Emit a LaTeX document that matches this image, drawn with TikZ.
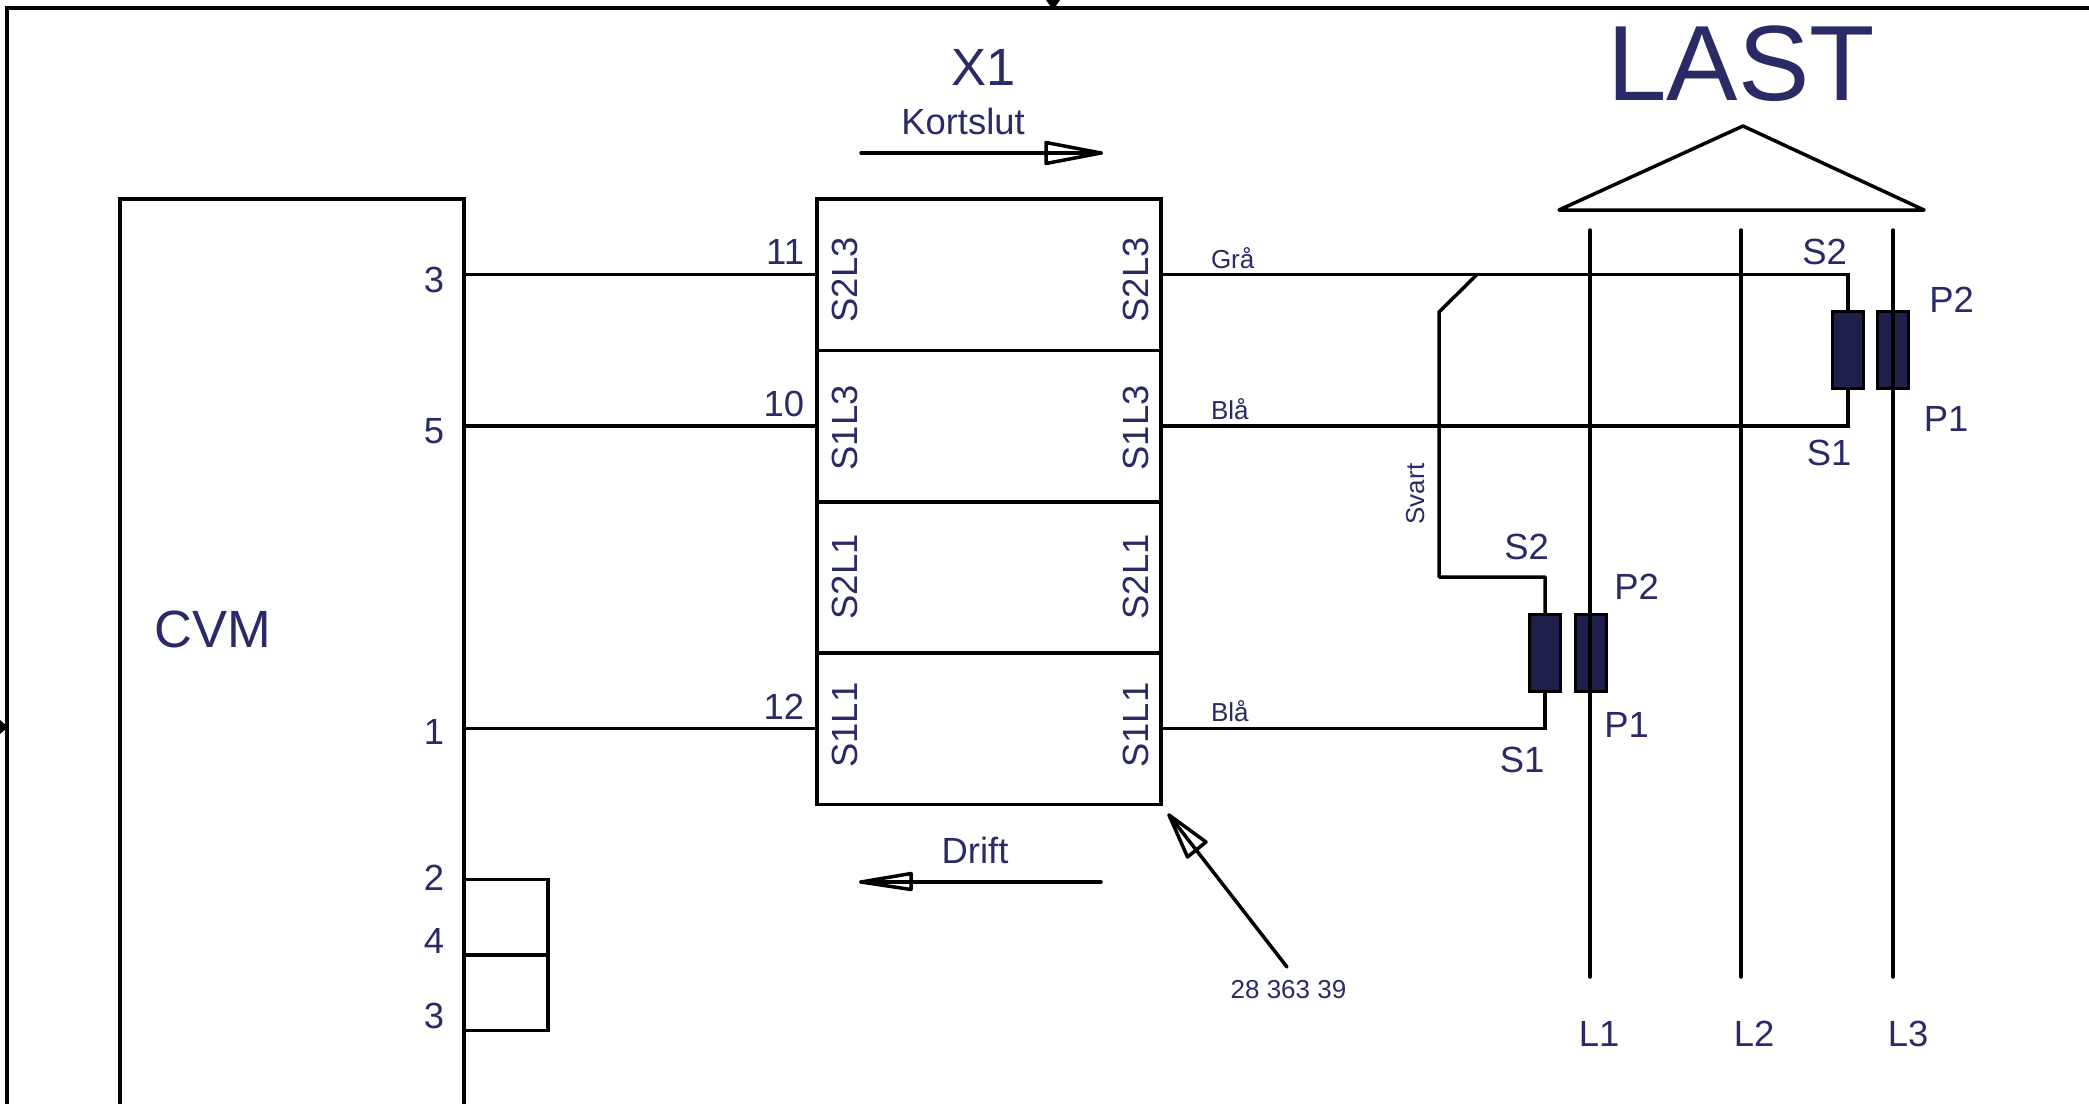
\documentclass[tikz,border=0pt]{standalone}
\usepackage{fontspec}
\setmainfont{Liberation Sans}
\definecolor{ink}{HTML}{2A2A66}
\definecolor{core}{HTML}{1F1F4B}
\tikzset{
  wire/.style={draw=black,line width=1.75pt,line join=miter},
  pointer/.style={draw=black,line width=1.75pt,line cap=round,line join=round},
  cell/.style={draw=black,line width=1.75pt,rectangle,inner sep=0pt,outer sep=0pt,minimum width=172pt,minimum height=75.75pt},
  ctcore/.style={draw=black,fill=core,line width=1.75pt,rectangle,inner sep=0pt,outer sep=0pt,minimum width=15.5pt,minimum height=38.5pt},
  txt/.style={text=ink,inner sep=0pt,outer sep=0pt,anchor=base},
  big/.style={txt,font=\fontsize{18.2}{18}\selectfont},
  tiny/.style={txt,font=\fontsize{13}{13}\selectfont},
  large/.style={txt,font=\fontsize{26.2}{26}\selectfont},
  huge/.style={txt,font=\fontsize{53.5}{53}\selectfont},
}
\begin{document}
\begin{tikzpicture}[x=0.5pt,y=-0.5pt]
\clip (0,0) rectangle (2089,1104);
\fill[white] (0,0) rectangle (2089,1104);
% outer frame and its clipped markers
\coordinate (fA) at (7,1104); \coordinate (fB) at (7,8); \coordinate (fC) at (2089,8);
\draw[wire] (fA) -- (fB) -- (fC);
\fill[black] (1046,0) -- (1060,0) -- (1053,10) -- cycle;
\fill[black] (0,720) -- (0,734) -- (8,727) -- cycle;
% CVM box
\coordinate (cA) at (120,1104); \coordinate (cB) at (120,199); \coordinate (cC) at (464,199); \coordinate (cD) at (464,1104);
\draw[wire] (cA) -- (cB) -- (cC) -- (cD);
% terminal block
\node[cell] (r1) at (989,274.5) {};
\node[cell] (r2) at (989,426) {};
\node[cell] (r3) at (989,577.5) {};
\node[cell] (r4) at (989,728.5) {};
% CT cores
\node[ctcore] (cts3) at (1848,350) {};
\node[ctcore] (ctp3) at (1893,350) {};
\node[ctcore] (cts1) at (1545,653) {};
\node[ctcore] (ctp1) at (1591,653) {};
% CVM to block wires
\coordinate (p3) at (464,274.5); \coordinate (p5) at (464,426); \coordinate (p1) at (464,728.5);
\draw[wire] (p3) -- (r1.west);
\draw[wire] (p5) -- (r2.west);
\draw[wire] (p1) -- (r4.west);
% block to CT wires
\draw[wire] (r1.east) -| (cts3.north);
\draw[wire] (r2.east) -| (cts3.south);
\draw[wire] (r4.east) -| (cts1.south);
% Svart
\coordinate (sA) at (1477,274.5); \coordinate (sB) at (1439,312); \coordinate (sC) at (1439,577);
\draw[wire,line join=round] (sA) -- (sB) -- (sC) -| (cts1.north);
% phase lines
\coordinate (l1a) at (1590,230); \coordinate (l1b) at (1590,977);
\coordinate (l2a) at (1741,230); \coordinate (l2b) at (1741,977);
\coordinate (l3a) at (1893,230); \coordinate (l3b) at (1893,977);
\draw[pointer] (l1a) -- (l1b);
\draw[pointer] (l2a) -- (l2b);
\draw[pointer] (l3a) -- (l3b);
% load triangle
\coordinate (tA) at (1743,126); \coordinate (tB) at (1559,210); \coordinate (tC) at (1924,210);
\draw[pointer] (tA) -- (tB) -- (tC) -- cycle;
% jumper on 2-4-3
\coordinate (j2) at (464,879.5); \coordinate (j2r) at (548,879.5);
\coordinate (j4) at (464,955); \coordinate (j4r) at (548,955);
\coordinate (j3) at (464,1030.5); \coordinate (j3r) at (548,1030.5);
\draw[wire] (j2) -- (j2r) -- (j3r) -- (j3);
\draw[wire] (j4) -- (j4r);
% arrows
\coordinate (kA) at (861,153); \coordinate (kT) at (1101,153);
\coordinate (kU) at (1046,142.5); \coordinate (kL) at (1046,163.5);
\draw[pointer] (kA) -- (kT);
\draw[pointer] (kT) -- (kU) -- (kL) -- cycle;
\coordinate (dA) at (1101,882); \coordinate (dT) at (861,882);
\coordinate (dU) at (911,873.5); \coordinate (dL) at (911,889.5);
\draw[pointer] (dA) -- (dT);
\draw[pointer] (dT) -- (dU) -- (dL) -- cycle;
\coordinate (nA) at (1287,967); \coordinate (nT) at (1169,815);
\coordinate (nU) at (1206,842); \coordinate (nL) at (1187.5,857);
\draw[pointer] (nA) -- (nT);
\draw[pointer] (nT) -- (nU) -- (nL) -- cycle;
% texts
\node[huge] (tLast) at (1741,100) {LAST};
\node[large] (tX) at (984,85) {X1};
\node[big] (tK) at (963,134) {Kortslut};
\node[big] (tD) at (975,863.5) {Drift};
\node[large] (tCvm) at (213,647.5) {CVM};
\node[tiny] (tNum) at (1288.5,998) {28 363 39};
\node[big] (t3a) at (434,292.5) {3};
\node[big] (t5) at (434,443.5) {5};
\node[big] (t1) at (434,744) {1};
\node[big] (t2) at (434,890) {2};
\node[big] (t4) at (434,953) {4};
\node[big] (t3b) at (434,1028) {3};
\node[big,anchor=base east] (t11) at (804,264) {11};
\node[big,anchor=base east] (t10) at (804,416) {10};
\node[big,anchor=base east] (t12) at (804,719.5) {12};
\node[big,rotate=90] (la) at (857.5,280) {S2L3};
\node[big,rotate=90] (lb) at (857.5,428) {S1L3};
\node[big,rotate=90] (lc) at (857.5,577) {S2L1};
\node[big,rotate=90] (ld) at (857.5,725) {S1L1};
\node[big,rotate=90] (ra) at (1148,280) {S2L3};
\node[big,rotate=90] (rb) at (1148,428) {S1L3};
\node[big,rotate=90] (rc) at (1148,577) {S2L1};
\node[big,rotate=90] (rd) at (1148,725) {S1L1};
\node[tiny,anchor=base west] (wG) at (1211,268.5) {Grå};
\node[tiny,anchor=base west] (wB) at (1211,419.5) {Blå};
\node[tiny,anchor=base west] (wC) at (1211,721.5) {Blå};
\node[tiny,rotate=90] (wS) at (1424,494) {Svart};
\node[big] (s2u) at (1824.5,264) {S2};
\node[big] (p2u) at (1951.5,312) {P2};
\node[big] (p1u) at (1946,431) {P1};
\node[big] (s1u) at (1829,465) {S1};
\node[big] (s2l) at (1526.5,559) {S2};
\node[big] (p2l) at (1636.5,599) {P2};
\node[big] (p1l) at (1626.5,737) {P1};
\node[big] (s1l) at (1522,772) {S1};
\node[big] (L1) at (1599,1046) {L1};
\node[big] (L2) at (1754,1046) {L2};
\node[big] (L3) at (1908,1046) {L3};
\end{tikzpicture}
\end{document}
